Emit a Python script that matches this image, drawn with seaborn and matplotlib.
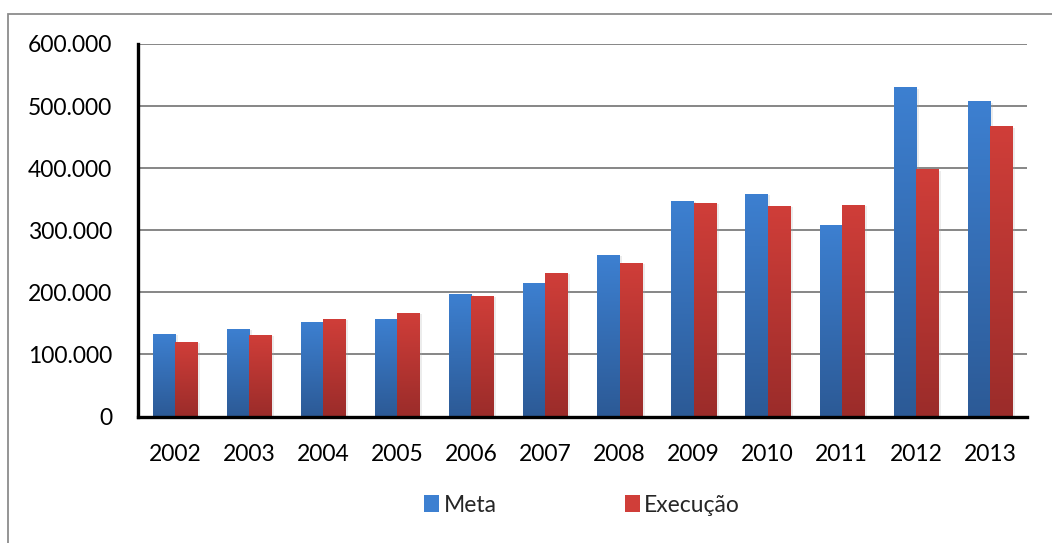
import numpy as np
import pandas as pd
import matplotlib
matplotlib.use("Agg")
import matplotlib.pyplot as plt
import matplotlib.patheffects as pe
from matplotlib.colors import LinearSegmentedColormap
from matplotlib.patches import Rectangle, Patch
import seaborn as sns

years = ["2002", "2003", "2004", "2005", "2006", "2007",
         "2008", "2009", "2010", "2011", "2012", "2013"]
meta = [133500, 141500, 152800, 157700, 198000, 215800,
        260400, 347700, 359000, 308900, 530500, 507800]
execucao = [120500, 131800, 157700, 167300, 194800, 231900,
            247400, 344500, 339600, 341200, 397900, 467400]
series = ["Meta", "Execução"]
yticks = [0, 100000, 200000, 300000, 400000, 500000, 600000]

top_colors = {"Meta": "#3D80D1", "Execução": "#D03E39"}
bot_colors = {"Meta": "#2C5A96", "Execução": "#9B2C2A"}

df = pd.DataFrame({
    "Ano": years * 2,
    "Valor": meta + execucao,
    "Série": ["Meta"] * len(years) + ["Execução"] * len(years),
})

sns.set_style("white")
plt.rcParams["font.family"] = ["Lato", "DejaVu Sans"]

W, H = 1052, 543
fig = plt.figure(figsize=(W / 100, H / 100), dpi=100)
ax = fig.add_axes([138 / W, 1 - 416.5 / H, (1027 - 138) / W, (416.5 - 44) / H])

sns.barplot(data=df, x="Ano", y="Valor", hue="Série", hue_order=series,
            order=years, palette=[top_colors[s] for s in series],
            width=0.6, gap=0, saturation=1, legend=False, ax=ax,
            edgecolor="none", linewidth=0, zorder=3)

ax.set_xlim(-0.5, len(years) - 0.5)
ax.set_ylim(0, 600000)

# gradients
for cont, s in zip(ax.containers, series):
    cmap = LinearSegmentedColormap.from_list(s, [bot_colors[s], top_colors[s]])
    grad = np.linspace(0, 1, 256).reshape(-1, 1)
    for p in cont.patches:
        x, w, h = p.get_x(), p.get_width(), p.get_height()
        p.set_path_effects([pe.SimplePatchShadow(offset=(2, -1), shadow_rgbFace="#aaaaaa", alpha=0.22),
                            pe.Normal()])
        im = ax.imshow(grad, extent=(x, x + w, 0, h), origin="lower",
                       aspect="auto", cmap=cmap, zorder=4, interpolation="bilinear")
        im.set_clip_path(p)

ax.set_xlim(-0.5, len(years) - 0.5)
ax.set_ylim(0, 600000)

ax.set_yticks(yticks)
ax.set_yticklabels([f"{v:,}".replace(",", ".") for v in yticks])
ax.yaxis.grid(True, color="#868686", linewidth=1.4, zorder=0)
ax.set_axisbelow(True)
ax.set_xlabel("")
ax.set_ylabel("")

ax.set_xticks(np.arange(-0.5, len(years), 1.0), minor=True)
ax.tick_params(axis="x", which="major", length=0, pad=20, labelsize=16.5, labelcolor="black")
ax.tick_params(axis="x", which="minor", length=6, width=2.5, color="black", direction="out")
ax.tick_params(axis="y", which="major", length=6, width=2.5, color="black",
               direction="out", pad=12.5, labelsize=16.5, labelcolor="black")

for side in ["top", "right"]:
    ax.spines[side].set_visible(False)
for side in ["left", "bottom"]:
    ax.spines[side].set_linewidth(2.4)
    ax.spines[side].set_color("black")
    ax.spines[side].set_zorder(6)

handles = [Patch(facecolor=top_colors[s], edgecolor="none") for s in series]
leg = fig.legend(handles, series, loc="center", bbox_to_anchor=(582 / W, 1 - 505 / H),
                 ncol=2, frameon=False, fontsize=16.5, handlelength=0.65, handleheight=0.8,
                 handletextpad=0.2, columnspacing=5.6)

# outer frame
fig.patches.append(Rectangle((8 / W, -0.2), 1.2, 1.2 - 14 / H,
                             transform=fig.transFigure, fill=False,
                             edgecolor="#8C8C8C", linewidth=1.3, zorder=0))

fig.savefig("out.png", dpi=100)
